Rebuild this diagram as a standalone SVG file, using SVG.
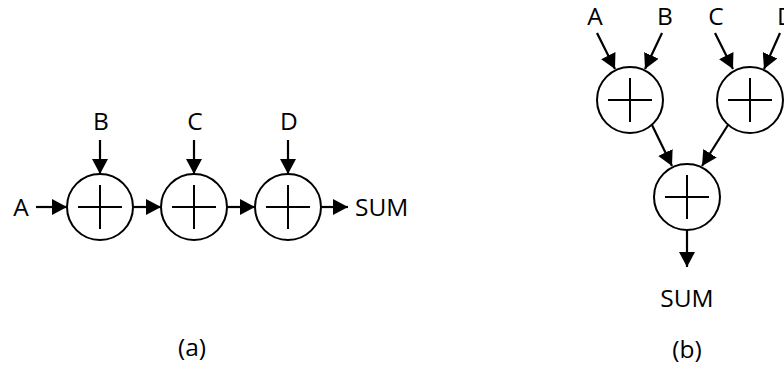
<svg xmlns="http://www.w3.org/2000/svg" width="784" height="372" viewBox="0 0 784 372">
<style>
  .adder circle { fill: #fff; stroke: #000; stroke-width: 2; }
  .adder line { stroke: #000; stroke-width: 2; }
  .conn line { stroke: #000; stroke-width: 2.2; marker-end: url(#ah); }
  text { font-family: "Open Sans", "Noto Sans", sans-serif; font-size: 24.5px; fill: #000; text-anchor: middle; }
</style>
<defs>
  <marker id="ah" markerUnits="userSpaceOnUse" markerWidth="15" markerHeight="16" refX="15" refY="8" orient="auto">
    <path d="M0,0 L15,8 L0,16 z" fill="#000"/>
  </marker>
</defs>
<rect width="784" height="372" fill="#fff"/>

<!-- (a) chain -->
<g id="a-add1" class="adder"><circle cx="100" cy="207" r="33"/><line x1="78" y1="207" x2="122" y2="207"/><line x1="100" y1="185" x2="100" y2="229"/></g>
<g id="a-add2" class="adder"><circle cx="194" cy="207" r="33"/><line x1="172" y1="207" x2="216" y2="207"/><line x1="194" y1="185" x2="194" y2="229"/></g>
<g id="a-add3" class="adder"><circle cx="288" cy="207" r="33"/><line x1="266" y1="207" x2="310" y2="207"/><line x1="288" y1="185" x2="288" y2="229"/></g>
<g id="a-labels">
  <text x="21" y="216">A</text>
  <text x="101" y="130">B</text>
  <text x="195" y="130">C</text>
  <text x="289" y="130">D</text>
  <text x="355" y="216" style="text-anchor:start">SUM</text>
  <text x="192" y="356">(a)</text>
</g>

<!-- (b) tree -->
<g id="b-add1" class="adder"><circle cx="630" cy="100" r="33"/><line x1="608" y1="100" x2="652" y2="100"/><line x1="630" y1="78" x2="630" y2="122"/></g>
<g id="b-add2" class="adder"><circle cx="750" cy="100" r="33"/><line x1="728" y1="100" x2="772" y2="100"/><line x1="750" y1="78" x2="750" y2="122"/></g>
<g id="b-add3" class="adder"><circle cx="687" cy="197" r="33"/><line x1="665" y1="197" x2="709" y2="197"/><line x1="687" y1="175" x2="687" y2="219"/></g>
<g id="b-labels">
  <text x="595" y="25">A</text>
  <text x="665" y="25">B</text>
  <text x="716" y="25">C</text>
  <text x="777" y="25" style="text-anchor:start">D</text>
  <text x="687" y="307">SUM</text>
  <text x="687" y="358">(b)</text>
</g>

<g id="connectors" class="conn">
  <line x1="36" y1="207" x2="67" y2="207"/>
  <line x1="133" y1="207" x2="161" y2="207"/>
  <line x1="227" y1="207" x2="255" y2="207"/>
  <line x1="321" y1="207" x2="348" y2="207"/>
  <line x1="100" y1="140" x2="100" y2="174"/>
  <line x1="194" y1="140" x2="194" y2="174"/>
  <line x1="288" y1="140" x2="288" y2="174"/>
  <line x1="597" y1="33" x2="615" y2="69"/>
  <line x1="662" y1="33" x2="645" y2="69"/>
  <line x1="715" y1="33" x2="733" y2="69"/>
  <line x1="780" y1="33" x2="764" y2="69"/>
  <line x1="652" y1="125" x2="672" y2="166"/>
  <line x1="728" y1="125" x2="702" y2="166"/>
  <line x1="687" y1="230" x2="687" y2="267"/>
</g>
</svg>
